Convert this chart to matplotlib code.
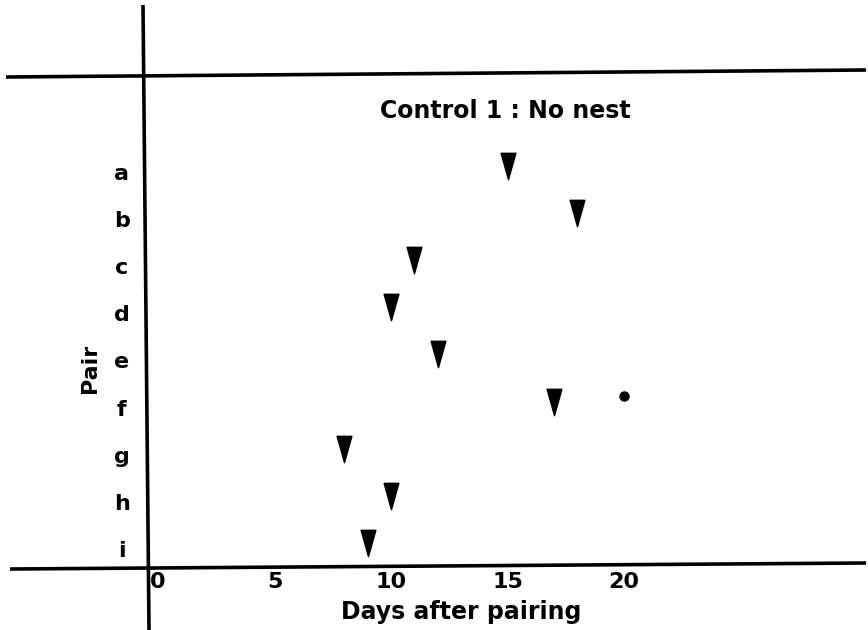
import numpy as np
import matplotlib
matplotlib.use("Agg")
import matplotlib.pyplot as plt
from matplotlib.lines import Line2D
from matplotlib.path import Path

# 各对亲鸟：首次出现（产卵）的天数
pairs = ["a", "b", "c", "d", "e", "f", "g", "h", "i"]
onset_days = [15, 18, 11, 10, 12, 17, 8, 10, 9]

# f 对在第 20 天的额外记录点
dot_pair = "f"
dot_day = 20

xtick_values = [0, 5, 10, 15, 20]
xtick_labels = ["0", "5", "10", "15", "20"]

title = "Control 1 : No nest"
xlabel = "Days after pairing"
ylabel = "Pair"

W, H = 868, 630
DAY0_PX, PX_PER_DAY = 158.0, 23.3
ROW0_PX, PX_PER_ROW = 165.5, 47.2

plt.rcParams["font.family"] = ["DejaVu Sans"]
FONT = dict(fontweight="bold", color="black")

fig = plt.figure(figsize=(W / 100, H / 100), dpi=100)
ax = fig.add_axes([0, 0, 1, 1])
ax.set_xlim(-DAY0_PX / PX_PER_DAY, (W - DAY0_PX) / PX_PER_DAY)
ax.set_ylim((H - ROW0_PX) / PX_PER_ROW, -ROW0_PX / PX_PER_ROW)
ax.axis("off")


def fig_line(x0, y0, x1, y1):
    # 以像素给出的手绘框线，转成 figure 坐标
    fig.add_artist(Line2D([x0 / W, x1 / W], [1 - y0 / H, 1 - y1 / H],
                          color="black", lw=2.6, solid_capstyle="butt"))


fig_line(143, 5, 149, 630)   # 竖线
fig_line(6, 77, 866, 70)     # 上横线
fig_line(10, 569, 866, 563)  # 时间轴

# 细长倒三角标记
tri = Path([(-0.28, 0.5), (0.28, 0.5), (0.0, -0.5), (-0.28, 0.5)],
           [Path.MOVETO, Path.LINETO, Path.LINETO, Path.CLOSEPOLY])

rows = np.arange(len(pairs))
ax.plot(onset_days, rows, ls="none", marker=tri, ms=19, color="black",
        mec="black")
ax.plot([dot_day], [pairs.index(dot_pair) - 0.12], ls="none", marker="o",
        ms=6.5, color="black")

# 纵向标签 a..i
for r, lab in zip(rows, pairs):
    ax.text(-1.55, r + 0.3, lab, ha="center", va="baseline", fontsize=16,
            **FONT)

# 横轴刻度文字
for v, lab in zip(xtick_values, xtick_labels):
    ax.text(v, 8.95, lab, ha="center", va="baseline", fontsize=16, **FONT)

ax.text(13.0, 9.6, xlabel, ha="center", va="baseline", fontsize=17, **FONT)
ax.text(-2.92, 4.29, ylabel, ha="center", va="center", rotation=90,
        fontsize=16, **FONT)
ax.text(14.9, -1.165, title, ha="center", va="center", fontsize=17, **FONT)

fig.savefig("out.png", dpi=100, facecolor="white")
